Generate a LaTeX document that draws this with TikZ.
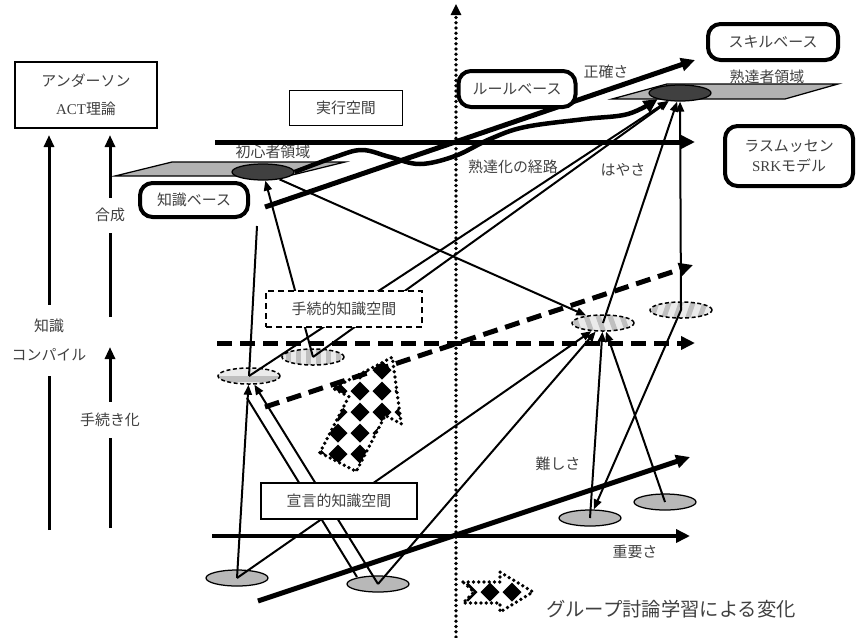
\documentclass[tikz,border=0pt]{standalone}
\usepackage{fontspec}
\setmainfont{Noto Sans CJK JP}
\newfontfamily\latfont{Liberation Serif}
\usetikzlibrary{arrows.meta,shapes.geometric,calc}

\begin{document}
\begin{tikzpicture}[x=0.2mm, y=-0.2mm,
   every node/.style={font=\fontsize{8.5}{10}\selectfont, text=black!75},
   sqbox/.style={draw, fill=white, line width=0.3mm, minimum height=7mm},
   rbox/.style={draw, fill=white, line width=0.8mm, rounded corners=2.5mm, minimum height=7.2mm},
   blob/.style={ellipse, draw, line width=0.25mm, minimum width=12.4mm, minimum height=3.2mm, inner sep=0pt},
   decl/.style={blob, fill=black!28},
   core/.style={blob, fill=black!75},
   proc/.style={blob, dash pattern=on 0.8mm off 0.5mm, line width=0.3mm, fill=black!8},
   lbl/.style={fill=white, inner sep=1pt},
   link/.style={line width=0.4mm, -{Triangle[length=2mm,width=1.6mm]}},
   plain/.style={line width=0.4mm},
   axis/.style={line width=1mm, -{Triangle[length=2.8mm,width=2.6mm]}},
   daxis/.style={axis, dash pattern=on 3mm off 1.6mm},
   vup/.style={line width=0.6mm, -{Triangle[length=2.4mm,width=2mm]}},
   plane/.style={draw, line width=0.25mm, fill=black!30},
   dotline/.style={line width=0.75mm, dash pattern=on 0pt off 1.05mm, line cap=round}]
\useasboundingbox (0,0) rectangle (856,637);

% planes
\draw[plane] (115,176) -- (172,162) -- (345,162) -- (288,176) -- cycle;
\draw[plane] (612,99) -- (667,84) -- (838,84) -- (785,99) -- cycle;
\node[core] (nov) at (263,172) {};
\node[core] (exp) at (680,93) {};
\node (novl) at (273,152) {初心者領域};
\node (expl) at (767,77) {熟達者領域};

% knowledge ellipses
\node[decl] (e1) at (237,578) {};
\node[decl] (e2) at (378,584) {};
\node[decl] (e3) at (590,518) {};
\node[decl] (e4) at (665,502) {};
\node[proc, path picture={\fill[gray!50] ([yshift=0.1mm]path picture bounding box.west) rectangle ([yshift=-1.1mm]path picture bounding box.east);}] (p1) at (249,376) {};
\node[proc, path picture={\foreach \s in {-5,-3,...,5} \fill[gray!50] ([xshift=\s mm]path picture bounding box.center) ++(-0.5mm,-2mm) rectangle ++(1mm,4mm);}] (p2) at (313,357) {};
\node[proc, path picture={\foreach \s in {-6,-3.6,...,6} \draw[gray!50, solid, line width=1mm] ([xshift=\s mm, yshift=2mm]path picture bounding box.center) -- ++(1.4mm,-4mm);}] (p3) at (603,323) {};
\node[proc, path picture={\foreach \s in {-6,-3.6,...,6} \draw[gray!50, solid, line width=1mm] ([xshift=\s mm, yshift=-2mm]path picture bounding box.center) -- ++(1.4mm,4mm);}] (p4) at (681,310) {};

% axes
\coordinate (v0) at (456,637); \coordinate (v1) at (456,4);
\draw[dotline] (v0) -- ([yshift=-2mm]v1);
\draw[-{Triangle[length=2.2mm,width=2mm]}, line width=0.5mm] ([yshift=-2.2mm]v1) -- (v1);
\coordinate (h0) at (215,142); \coordinate (h1) at (695,142);
\draw[axis] (h0) -- (h1);
\coordinate (a0) at (265,207); \coordinate (a1) at (695,60);
\draw[axis] (a0) -- (a1);
\coordinate (g0) at (212,536); \coordinate (g1) at (690,536);
\draw[axis, line width=0.85mm] (g0) -- (g1);
\coordinate (d0) at (258,601); \coordinate (d1) at (690,457);
\draw[axis] (d0) -- (d1);
\coordinate (m0) at (217,343); \coordinate (m1) at (695,343);
\draw[daxis] (m0) -- (m1);
\coordinate (s0) at (265,407); \coordinate (s1) at (693,265);
\draw[daxis] (s0) -- (s1);

% path of mastery
\draw[axis, line width=0.9mm] plot[smooth, tension=0.6] coordinates {(nov.east) (335,157) (362,150) (390,157) (420,164) (455,156) (490,139) (525,127) (585,119) (628,114) (exp.south west)};

% connectors
\draw[link] (e1.center) -- (p1);
\draw[link] (e1.center) -- (p3);
\draw[link] (e2.center) -- (p1);
\draw[plain] ($(e2.center)+(-21,-7)$) -- ($(p1.center)+(-2,22)$);
\draw[link] (e2.center) -- (p3);
\draw[link] (e3.center) -- (p3);
\draw[link] (e4.center) -- (p3);
\draw[link] (p4.center) -- (e3);
\draw[link] (nov) -- (p3);
\draw[link] (p2.center) -- (nov);
\draw[link] (p1.center) -- (exp);
\draw[link] (p2.center) -- (exp);
\draw[link] (p3.center) -- (exp);
\draw[link] (p4.center) -- (exp);
\coordinate (ptop) at (257,226);
\draw[plain] (p1.center) -- (ptop);

% left arrows
\coordinate (k0) at (49,530); \coordinate (k1) at (49,135);
\draw[vup] (k0) -- (k1);
\coordinate (c0) at (110,528); \coordinate (c1) at (110,347);
\draw[vup] (c0) -- (c1);
\coordinate (c2) at (110,317); \coordinate (c3) at (110,135);
\draw[vup] (c2) -- (c3);
\node[lbl, align=center, minimum height=14.2mm, font=\fontsize{8.5}{16.5}\selectfont] (kcomp) at (49,340) {知識\\コンパイル};
\node[lbl, minimum height=7.2mm] (proced) at (110,420) {手続き化};
\node[lbl, minimum height=7mm] (comp) at (110,215) {合成};

% boxes
\node[sqbox, minimum width=28.4mm, minimum height=13.2mm, align=center, font=\fontsize{8.5}{16}\selectfont] (act) at (86,95) {アンダーソン\\{\latfont ACT}理論};
\node[sqbox, minimum width=22.6mm] (exec) at (346,108) {実行空間};
\node[rbox, minimum width=21.6mm, minimum height=6.8mm] (kb) at (194,200) {知識ベース};
\node[rbox, minimum width=23.4mm] (rb) at (517,89) {ルールベース};
\node[rbox, minimum width=26mm] (sb) at (773,42) {スキルベース};
\node[rbox, minimum width=25.6mm, minimum height=12mm, align=center, font=\fontsize{8.5}{11.5}\selectfont] (srk) at (789,156) {ラスムッセン\\{\latfont SRK}モデル};
\node[sqbox, dash pattern=on 1.2mm off 0.8mm, minimum width=31.2mm, minimum height=7.2mm] (pks) at (344,309) {手続的知識空間};
\node[sqbox, minimum width=31.2mm, minimum height=7.2mm] (dks) at (339,501) {宣言的知識空間};

% labels
\node (acc) at (606,72) {正確さ};
\node (spd) at (623,170) {はやさ};
\node (route) at (513,167) {熟達化の経路};
\node (imp) at (635,552) {重要さ};
\node (dif) at (558,464) {難しさ};
\node[font=\fontsize{11}{13}\selectfont] (leg) at (671,609) {グループ討論学習による変化};

% group discussion arrows
\begin{scope}
\clip[shift={(338,462)}, rotate=62.6] (0,-20.5) -- (63,-20.5) -- (63,-38.5) -- (118,0) -- (63,38.5) -- (63,20.5) -- (0,20.5) -- cycle;
\foreach \x in {316,338,...,404} \foreach \y in {349,370,...,475}
  \fill (\x,\y) +(0,-9.5) -- +(9.5,0) -- +(0,9.5) -- +(-9.5,0) -- cycle;
\end{scope}
\draw[dotline, shift={(338,462)}, rotate=62.6] (0,-20.5) -- (63,-20.5) -- (63,-38.5) -- (118,0) -- (63,38.5) -- (63,20.5) -- (0,20.5) -- cycle;
\begin{scope}
\clip (463,582) -- (500,582) -- (500,572) -- (533,592) -- (500,612) -- (500,603) -- (463,603) -- (474,592) -- cycle;
\foreach \x in {468,490,512}
  \fill (\x,592) +(0,-9.5) -- +(9.5,0) -- +(0,9.5) -- +(-9.5,0) -- cycle;
\end{scope}
\draw[dotline] (463,582) -- (500,582) -- (500,572) -- (533,592) -- (500,612) -- (500,603) -- (463,603) -- (474,592) -- cycle;
\end{tikzpicture}
\end{document}
